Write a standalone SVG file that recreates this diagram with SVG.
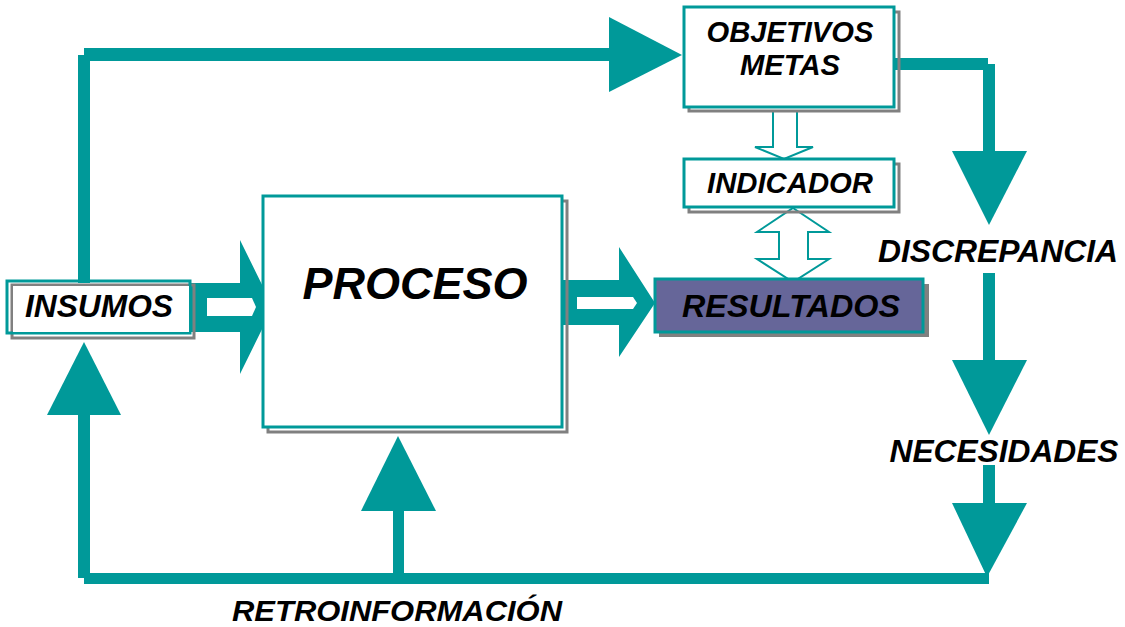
<svg xmlns="http://www.w3.org/2000/svg" width="1125" height="627" viewBox="0 0 1125 627">
<style>
.t{fill:#009999}
.hollow{fill:#ffffff;stroke:#009999;stroke-width:2}
.frame{fill:#ffffff;stroke:#009999;stroke-width:3}
.shadow{fill:none;stroke:#808080;stroke-width:3}
.lbl{font-family:"Liberation Sans",Arial,sans-serif;font-weight:bold;font-style:italic;fill:#000000;text-anchor:middle}
</style>
<rect width="1125" height="627" fill="#ffffff"/>
<g id="connectors">
  <rect class="t" x="78" y="55" width="12" height="228"/>
  <rect class="t" x="84" y="48" width="526" height="13"/>
  <polygon class="t" points="609,17 682,55 609,92"/>
  <polygon class="t" points="190,283 240,283 240,240 273,307 240,374 240,332 190,332"/>
  <polygon fill="#ffffff" points="207,298 252,298 256,307 252,316 207,316"/>
  <polygon class="t" points="562,280 619,280 619,247 655,303 619,357 619,325 562,325"/>
  <polygon fill="#ffffff" points="577,297 633,297 637,303 633,309 577,309"/>
  <polygon class="hollow" points="773,111 797,111 797,147 813,147 784,159 755,147 773,147"/>
  <polygon class="hollow" points="793,208 829,232 808,232 808,259 829,259 793,282 757,259 779,259 779,232 757,232"/>
  <rect class="t" x="894" y="58" width="94" height="12"/>
  <rect class="t" x="983" y="64" width="12" height="88"/>
  <polygon class="t" points="952,151 1027,151 989,225"/>
  <rect class="t" x="983" y="273" width="12" height="88"/>
  <polygon class="t" points="952,360 1027,360 989,435"/>
  <rect class="t" x="983" y="465" width="12" height="39"/>
  <polygon class="t" points="952,503 1027,503 987,577"/>
  <rect class="t" x="84" y="573" width="905" height="11"/>
  <rect class="t" x="78" y="415" width="12" height="163"/>
  <polygon class="t" points="47,415 121,415 84,342"/>
  <rect class="t" x="393" y="510" width="11" height="64"/>
  <polygon class="t" points="361,511 436,511 398,436"/>
</g>
<g id="insumos">
  <rect class="shadow" x="12" y="285" width="182" height="53"/>
  <rect class="frame" x="7" y="281" width="183" height="52" fill-opacity="0"/>
  <rect x="13" y="286" width="176" height="46" fill="#ffffff"/>
  <text class="lbl" x="99" y="317" font-size="31" textLength="148" lengthAdjust="spacingAndGlyphs">INSUMOS</text>
</g>
<g id="proceso">
  <rect class="shadow" x="268" y="201" width="299" height="231"/>
  <rect class="frame" x="263" y="196" width="299" height="231"/>
  <text class="lbl" x="415" y="299" font-size="45" textLength="225" lengthAdjust="spacingAndGlyphs">PROCESO</text>
</g>
<g id="resultados">
  <rect x="659" y="284" width="270" height="53" fill="#808080"/>
  <rect x="655" y="279" width="268" height="53" fill="#666699" stroke="#009999" stroke-width="3"/>
  <text class="lbl" x="791" y="317" font-size="31" textLength="218" lengthAdjust="spacingAndGlyphs">RESULTADOS</text>
</g>
<g id="objetivos">
  <rect class="shadow" x="689" y="12" width="210" height="99"/>
  <rect class="frame" x="684" y="7" width="210" height="100"/>
  <text class="lbl" x="790" y="42" font-size="29" textLength="167" lengthAdjust="spacingAndGlyphs">OBJETIVOS</text>
  <text class="lbl" x="790" y="75" font-size="29" textLength="100" lengthAdjust="spacingAndGlyphs">METAS</text>
</g>
<g id="indicador">
  <rect class="shadow" x="689" y="164" width="210" height="48"/>
  <rect class="frame" x="684" y="159" width="210" height="48"/>
  <text class="lbl" x="790" y="193" font-size="29" textLength="166" lengthAdjust="spacingAndGlyphs">INDICADOR</text>
</g>
<g id="discrepancia">
  <text class="lbl" x="998" y="262" font-size="31" textLength="240" lengthAdjust="spacingAndGlyphs">DISCREPANCIA</text>
</g>
<g id="necesidades">
  <text class="lbl" x="1004" y="462" font-size="31" textLength="229" lengthAdjust="spacingAndGlyphs">NECESIDADES</text>
</g>
<g id="retroinformacion">
  <text class="lbl" x="397" y="621" font-size="30" textLength="330" lengthAdjust="spacingAndGlyphs">RETROINFORMACIÓN</text>
</g>
</svg>
